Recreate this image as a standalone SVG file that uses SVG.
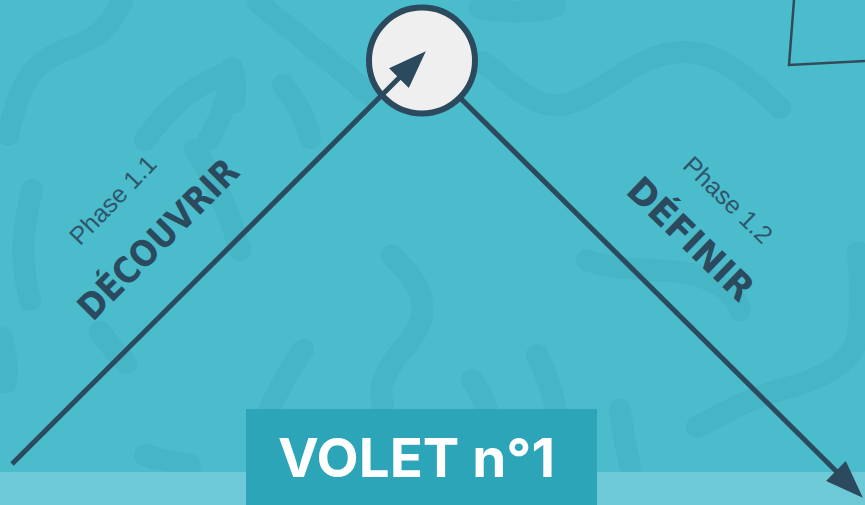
<svg xmlns="http://www.w3.org/2000/svg" width="865" height="505" viewBox="0 0 865 505">
  <style>
    .sq { fill: none; stroke: #46B6C6; stroke-width: 22; stroke-linecap: round; stroke-linejoin: round; }
    .conn { stroke: #2C4A5E; stroke-width: 5; fill: none; }
    .phase { font-family: "Liberation Sans", Arial, sans-serif; font-size: 25px; fill: #2F566B; text-anchor: middle; }
    .title { font-family: "DejaVu Sans", "Liberation Sans", sans-serif; font-weight: bold; font-size: 36px; fill: #2B4A5E; text-anchor: middle; }
    .volet { font-family: "Inter", "Open Sans", "Liberation Sans", sans-serif; font-weight: 700; font-size: 54px; fill: #FFFFFF; text-anchor: middle; }
  </style>
  <defs>
    <marker id="arrow" viewBox="0 0 38 28" refX="10" refY="14" markerWidth="38" markerHeight="28" markerUnits="userSpaceOnUse" orient="auto">
      <path d="M0,0 L38,14 L0,28 Z" fill="#2C4A5E"/>
    </marker>
  </defs>

  <!-- background -->
  <rect x="0" y="0" width="865" height="505" fill="#4ABCCC"/>

  <!-- background squiggles -->
  <g id="squiggles">
    <path class="sq" d="M8,135 C20,80 35,60 70,48 S112,20 122,2"/>
    <path class="sq" d="M145,140 C170,105 200,80 232,72 C228,100 218,125 208,140"/>
    <path class="sq" d="M283,85 C295,100 305,115 310,138"/>
    <path class="sq" d="M258,2 C290,30 330,60 370,95"/>
    <path class="sq" d="M232,68 C236,80 236,92 234,102"/>
    <path class="sq" d="M480,8 C510,14 540,12 555,6"/>
    <path class="sq" d="M482,62 C510,80 530,108 560,105 C600,100 630,55 680,52 C720,50 750,80 780,108"/>
    <path class="sq" d="M392,255 C410,275 425,290 422,315 C418,340 390,355 382,385 C380,395 382,405 385,415"/>
    <path class="sq" d="M303,350 C290,370 278,390 270,408"/>
    <path class="sq" d="M472,380 C480,392 485,402 488,412"/>
    <path class="sq" d="M537,355 C546,372 552,390 556,410"/>
    <path class="sq" d="M587,260 C610,270 640,268 680,272 C720,278 735,295 740,310"/>
    <path class="sq" d="M697,427 C720,415 750,398 780,390 C820,380 850,365 857,340 C862,310 860,280 858,252"/>
    <path class="sq" d="M620,410 C622,430 626,448 630,465"/>
    <path class="sq" d="M100,332 C110,345 118,355 126,363"/>
    <path class="sq" d="M145,455 C160,460 175,462 190,465"/>
    <path class="sq" d="M2,338 C6,355 8,368 6,382"/>
    <path class="sq" d="M32,190 C22,230 20,260 30,300"/>
    <path class="sq" d="M195,150 C215,180 230,215 240,250"/>
  </g>

  <!-- bottom light band -->
  <rect x="0" y="472" width="865" height="33" fill="#6CC9D5"/>

  <!-- top right frame corner -->
  <polyline points="794,0 789,65 865,61" fill="none" stroke="#34495A" stroke-width="2.5"/>

  <!-- connectors -->
  <g id="connectors">
    <line id="conn-right" class="conn" x1="422" y1="60" x2="843" y2="478" marker-end="url(#arrow)"/>
  </g>

  <!-- central node -->
  <g id="node-center">
    <circle cx="422" cy="60.5" r="53" fill="#EFEFEF" stroke="#2C4A5E" stroke-width="6"/>
  </g>

  <g id="connectors-over">
    <line id="conn-left" class="conn" x1="12" y1="464" x2="406" y2="71" marker-end="url(#arrow)"/>
  </g>

  <!-- phase 1.1 label -->
  <g id="label-decouvrir">
    <text class="phase" transform="translate(119,206) rotate(-46)">Phase 1.1</text>
    <text class="title" transform="translate(167,248) rotate(-45)" textLength="210" lengthAdjust="spacingAndGlyphs">DÉCOUVRIR</text>
  </g>

  <!-- phase 1.2 label -->
  <g id="label-definir">
    <text class="phase" transform="translate(722,206) rotate(44)">Phase 1.2</text>
    <text class="title" transform="translate(682,248) rotate(44)" textLength="160" lengthAdjust="spacingAndGlyphs">DÉFINIR</text>
  </g>

  <!-- volet box -->
  <g id="node-volet">
    <rect x="246" y="409" width="351" height="96" fill="#2BA5B7"/>
    <text class="volet" x="416.5" y="477" textLength="277" lengthAdjust="spacingAndGlyphs">VOLET n°1</text>
  </g>
</svg>
